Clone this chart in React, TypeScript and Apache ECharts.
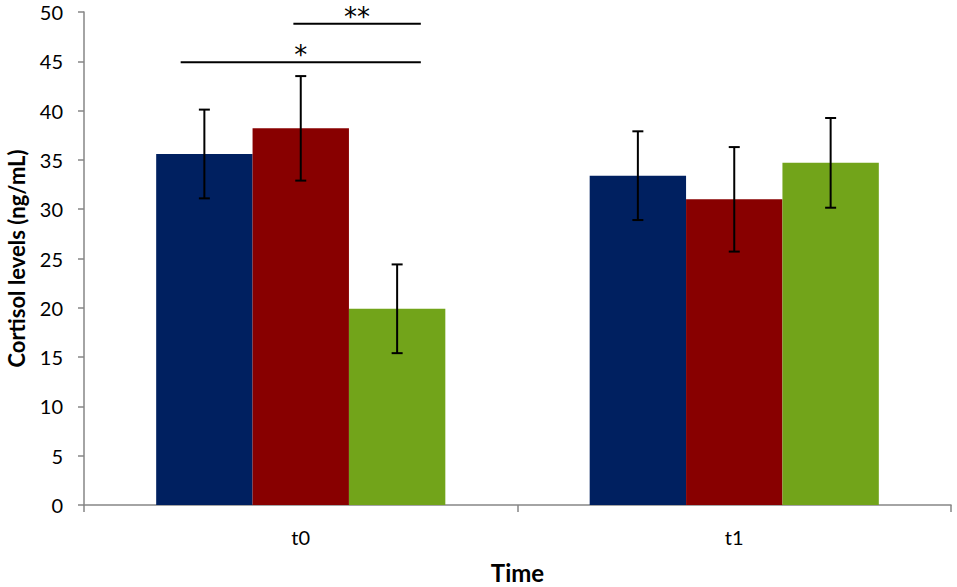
import React, { useEffect, useRef } from "react";
import * as echarts from "echarts";

const categories = ["t0", "t1"];
const seriesNames = ["Group 1", "Group 2", "Group 3"];
const seriesColors = ["#002060", "#880000", "#72A41A"];
const blueValues = [35.6, 33.4];
const blueErrors = [4.5, 4.5];
const redValues = [38.2, 31.0];
const redErrors = [5.3, 5.3];
const greenValues = [19.9, 34.7];
const greenErrors = [4.5, 4.55];
const yTicks = [0, 5, 10, 15, 20, 25, 30, 35, 40, 45, 50];
// significance brackets (x in category units on a hidden overlay axis)
const sigStart = [-0.277, -0.017];
const sigEnd = [0.277, 0.277];
const sigLevel = [44.9, 48.8];
const sigLabels = ["*", "**"];

const FONT = "Lato, 'Open Sans', sans-serif";
const BAR_GAP_FRAC = 0.333;

export default function App() {
  const ref = useRef<HTMLDivElement>(null);
  useEffect(() => {
    document.body.style.margin = "0";
    const chart = echarts.init(ref.current!, undefined, { renderer: "svg" });
    const values = [blueValues, redValues, greenValues];
    const errors = [blueErrors, redErrors, greenErrors];

    const barSeries = values.map((v, i) => ({
      type: "bar",
      name: seriesNames[i],
      data: v,
      barGap: "0%",
      barCategoryGap: "33.3%",
      itemStyle: { color: seriesColors[i] },
      xAxisIndex: 0,
      yAxisIndex: 0,
    }));

    const errSeries = values.map((v, i) => ({
      type: "custom",
      name: seriesNames[i] + " error",
      xAxisIndex: 0,
      yAxisIndex: 0,
      z: 5,
      data: v.map((val, j) => [j, val, errors[i][j]]),
      renderItem: (params: any, api: any) => {
        const cat = api.value(0);
        const val = api.value(1);
        const err = api.value(2);
        const center = api.coord([cat, val]);
        const band = api.size([1, 0])[0];
        const barW = (band * (1 - BAR_GAP_FRAC)) / 3;
        const x = center[0] + (i - 1) * barW;
        const top = api.coord([cat, val + err])[1];
        const bot = api.coord([cat, val - err])[1];
        const cap = 5.5;
        const style = { stroke: "#000", lineWidth: 2 };
        return {
          type: "group",
          children: [
            { type: "line", shape: { x1: x, y1: top, x2: x, y2: bot }, style },
            { type: "line", shape: { x1: x - cap, y1: top, x2: x + cap, y2: top }, style },
            { type: "line", shape: { x1: x - cap, y1: bot, x2: x + cap, y2: bot }, style },
          ],
        };
      },
    }));

    const sigSeries = {
      type: "custom",
      name: "significance",
      xAxisIndex: 1,
      yAxisIndex: 0,
      z: 6,
      itemStyle: { color: "#000" },
      data: sigStart.map((s, k) => [s, sigEnd[k], sigLevel[k], k]),
      renderItem: (params: any, api: any) => {
        const a = api.coord([api.value(0), api.value(2)]);
        const b = api.coord([api.value(1), api.value(2)]);
        const k = api.value(3);
        return {
          type: "group",
          children: [
            { type: "line", shape: { x1: a[0], y1: a[1], x2: b[0], y2: b[1] }, style: { stroke: "#000", lineWidth: 2 } },
            {
              type: "text",
              x: (a[0] + b[0]) / 2,
              y: a[1] - 7,
              style: {
                text: sigLabels[k],
                fontSize: 26,
                fontFamily: "'DejaVu Sans', sans-serif",
                fill: "#000",
                stroke: "none",
                align: "center",
                verticalAlign: "middle",
              },
            },
          ],
        };
      },
    };

    chart.setOption({
      animation: false,
      backgroundColor: "#fff",
      grid: { left: 84, right: 6, top: 12, bottom: 82, containLabel: false, outerBoundsMode: "none" },
      xAxis: [
        {
          type: "category",
          data: categories,
          name: "Time",
          nameLocation: "middle",
          nameGap: 55,
          nameTextStyle: { fontSize: 24, fontWeight: "bold", fontFamily: FONT, color: "#000" },
          axisLine: { lineStyle: { color: "#868686", width: 1.5 } },
          axisTick: { show: true, length: 7, lineStyle: { color: "#868686", width: 1.5 } },
          axisLabel: { fontSize: 20, fontFamily: FONT, color: "#000", margin: 22 },
          splitLine: { show: false },
        },
        { type: "value", min: -0.5, max: 1.5, show: false },
      ],
      yAxis: {
        type: "value",
        min: yTicks[0],
        max: yTicks[yTicks.length - 1],
        interval: 5,
        name: "Cortisol levels (ng/mL)",
        nameLocation: "middle",
        nameGap: 57,
        nameTextStyle: { fontSize: 22, fontWeight: "bold", fontFamily: FONT, color: "#000" },
        axisLine: { show: true, onZero: false, lineStyle: { color: "#868686", width: 1.5 } },
        axisTick: { show: true, length: 6, lineStyle: { color: "#868686", width: 1.5 } },
        axisLabel: { fontSize: 20, fontFamily: FONT, color: "#000", margin: 21 },
        splitLine: { show: false },
      },
      series: [...barSeries, ...errSeries, sigSeries],
    });
    return () => chart.dispose();
  }, []);
  return <div ref={ref} style={{ width: 957, height: 587 }} />;
}
